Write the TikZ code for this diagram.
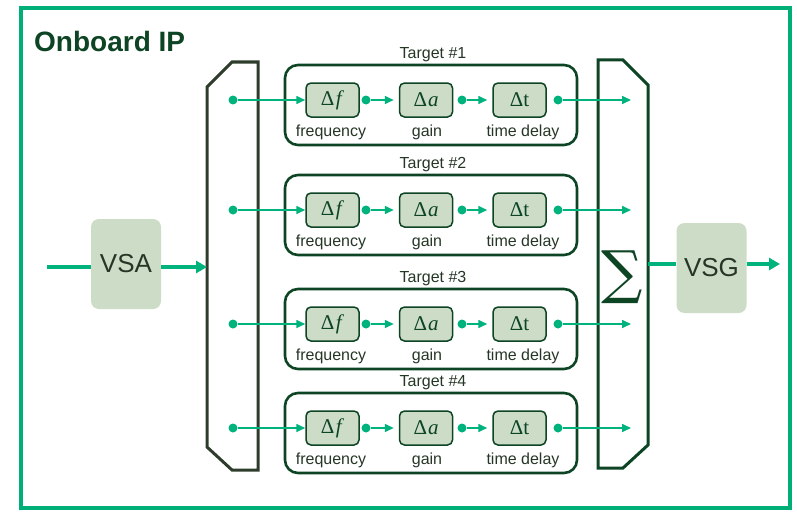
\documentclass[tikz,border=0pt]{standalone}
\usepackage[no-math]{fontspec}
\setmainfont{Liberation Sans}
\newfontfamily\deltafont{Liberation Serif}
\newfontfamily\sigmafont{DejaVu Serif}
\usetikzlibrary{arrows.meta}
\definecolor{framegreen}{HTML}{00AE78}
\definecolor{linkgreen}{HTML}{00B27C}
\definecolor{deepgreen}{HTML}{0C4424}
\definecolor{olivedark}{HTML}{2E3D2B}
\definecolor{blockfill}{HTML}{CCDCC7}
\definecolor{inktext}{HTML}{263626}
\begin{document}
\begin{tikzpicture}[x=1pt,y=-1pt,
  font=\fontsize{16}{16}\selectfont,
  blk/.style={draw=deepgreen,line width=1.5pt,fill=blockfill,rounded corners=5pt,
    minimum width=53pt,minimum height=34pt,inner sep=0pt,text=deepgreen,
    font=\fontsize{21}{21}\selectfont\deltafont},
  grp/.style={draw=deepgreen,line width=2.6pt,rounded corners=13pt},
  bigbox/.style={fill=blockfill,rounded corners=8pt,minimum width=70pt,minimum height=90pt,
    inner sep=0pt,text=inktext,font=\fontsize{26}{26}\selectfont},
  dot/.style={circle,fill=linkgreen,inner sep=0pt,minimum size=9pt},
  link/.style={draw=linkgreen,line width=1.6pt,-{Triangle[length=9pt,width=8pt]}},
  mainlink/.style={draw=linkgreen,line width=3.2pt},
  sublabel/.style={text=inktext,inner sep=0pt,anchor=base}]
\useasboundingbox (0,0) rectangle (797,511);
% outer frame
\draw[framegreen,line width=4pt] (21,8) rectangle (790,508);
\node[anchor=west,text=deepgreen,font=\fontsize{28}{28}\selectfont\bfseries,inner sep=0pt] (title) at (34,41) {Onboard IP};

% splitter and combiner shapes
\draw[olivedark,line width=3pt,line join=miter]
  (232,62) -- (258,62) -- (258,470) -- (232,470) -- (207,447) -- (207,87) -- cycle;
\node[inner sep=0pt,outer sep=0pt,minimum width=51pt,minimum height=408pt] (split) at (232.5,266) {};
\draw[deepgreen,line width=3pt,line join=miter]
  (598,60) -- (623,60) -- (648,85) -- (648,445) -- (623,468) -- (598,468) -- cycle;
\node[inner sep=0pt,outer sep=0pt,minimum width=50pt,minimum height=408pt] (comb) at (623,264) {};
\node[text=deepgreen,inner sep=0pt,font=\fontsize{58}{58}\selectfont\sigmafont] (sigma) at (622.5,277) {∑};

% analyser and generator
\node[bigbox] (vsa) at (126,264) {VSA};
\node[bigbox] (vsg) at (711.5,268) {VSG};
\coordinate (in) at (47,267);
\coordinate (out) at (780,264);
\draw[mainlink] (in) -- (vsa.west |- in);
\draw[mainlink,-{Triangle[length=11pt,width=12pt]}] (vsa.east |- in) -- (split.west |- in);
\draw[mainlink] (comb.east) -- (vsg.west |- comb.east);
\draw[mainlink,-{Triangle[length=11pt,width=12pt]}] (vsg.east |- comb.east) -- (out);

% one processing chain per target
\foreach \i/\y in {1/100,2/210,3/324,4/428}{
  \draw[grp] (285,\y-35) rectangle (577,\y+45);
  \node[text=inktext,inner sep=0pt] (lab\i) at (433,\y-45) {Target \#\i};
  \node[blk] (f\i) at (332.5,\y) {Δ\kern1.5pt\textit{f}};
  \node[blk] (a\i) at (426,\y) {Δ\kern1pt\textit{a}};
  \node[blk] (t\i) at (519.5,\y) {Δt};
  \node[sublabel] (fl\i) at (331,\y+36) {frequency};
  \node[sublabel] (al\i) at (427,\y+36) {gain};
  \node[sublabel] (tl\i) at (523,\y+36) {time delay};
  \node[dot] (d0\i) at (233,\y) {};
  \node[dot] (d1\i) at (366,\y) {};
  \node[dot] (d2\i) at (462,\y) {};
  \node[dot] (d3\i) at (558,\y) {};
  \coordinate (e\i) at (631,\y);
  \draw[link] (d0\i) -- (f\i.west);
  \draw[link,shorten >=5pt] (d1\i) -- (a\i.west);
  \draw[link,shorten >=5pt] (d2\i) -- (t\i.west);
  \draw[link] (d3\i) -- (e\i);
}
\end{tikzpicture}
\end{document}
